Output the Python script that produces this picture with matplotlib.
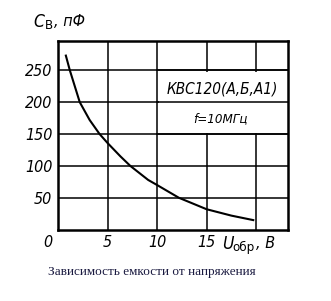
# Зависимость емкости варикапа КВС120 от обратного напряжения
import matplotlib.pyplot as plt
from matplotlib.patches import Rectangle
import matplotlib.transforms as mtransforms
from matplotlib import font_manager

# values
u_obr = [0.8, 1.2, 2.2, 3.2, 4.2, 5.0, 6.3, 7.3, 9.1, 10.0, 12.2, 15.0, 17.5, 19.7]
c_v = [273, 250, 200, 172, 150, 136, 115, 100, 78, 70, 50, 32, 22, 15]

x_ticks = [0, 5, 10, 15]
x_labels = ['0', '5', '10', '15']
y_ticks = [50, 100, 150, 200, 250]
y_labels = ['50', '100', '150', '200', '250']

names = sorted({f.name for f in font_manager.fontManager.ttflist})
font = ['DejaVu Sans']
for cand in ['Liberation Sans Narrow', 'DejaVu Sans Condensed']:
    if cand in names:
        font = [cand, 'DejaVu Sans']
        break
kw = dict(family=font, stretch='condensed')

fig = plt.figure(figsize=(3.31, 3.01), dpi=100)
ax = fig.add_axes([0.175, 0.237, 0.695, 0.627])

ax.set_xlim(0, 23.2)
ax.set_ylim(0, 296)

# grid drawn by hand so the label box can sit over part of it
for xv in [5, 10, 15, 20]:
    ax.axvline(xv, color='black', lw=1.1, zorder=1)
for yv in y_ticks:
    ax.axhline(yv, color='black', lw=1.1, zorder=1)

# white patch behind the labels
ax.add_patch(Rectangle((10.15, 152), 13.05, 96, facecolor='white',
                       edgecolor='none', zorder=2))
for yv in [150, 200, 250]:
    ax.plot([10, 23.2], [yv, yv], color='black', lw=1.1, zorder=3)

ax.plot(u_obr, c_v, color='black', lw=1.5, zorder=4)

ax.text(16.6, 221, 'КВС120(А,Б,А1)', ha='center', va='center',
        fontsize=11, style='italic', zorder=5, **kw)
ax.text(16.4, 174, 'f=10МГц', ha='center', va='center',
        fontsize=9.5, style='italic', zorder=5, **kw)

for sp in ax.spines.values():
    sp.set_linewidth(1.8)

ax.set_xticks(x_ticks)
ax.set_xticklabels(x_labels, fontsize=11.5, style='italic', **kw)
ax.set_yticks(y_ticks)
ax.set_yticklabels(y_labels, fontsize=11.5, style='italic', **kw)
ax.tick_params(length=0, pad=4)

# the "0" sits left of the axis corner in the original
lab0 = ax.get_xticklabels()[0]
lab0.set_transform(lab0.get_transform() +
                   mtransforms.ScaledTranslation(-0.1, 0, fig.dpi_scale_trans))

fig.text(0.1, 0.927, 'C', fontsize=12.5, style='italic', va='center', **kw)
fig.text(0.136, 0.915, 'В', fontsize=9.5, va='center', **kw)
fig.text(0.163, 0.927, ', пФ', fontsize=11.5, style='italic', va='center', **kw)

fig.text(0.672, 0.19, 'U', fontsize=12.5, style='italic', va='center', **kw)
fig.text(0.703, 0.178, 'обр', fontsize=9.5, va='center', **kw)
fig.text(0.772, 0.19, ', В', fontsize=11.5, style='italic', va='center', **kw)

fig.text(0.46, 0.097, 'Зависимость емкости от напряжения', fontsize=9.5,
         family='Liberation Serif', color='#1a1a40', ha='center', va='center')

fig.savefig('out.png', dpi=100)
